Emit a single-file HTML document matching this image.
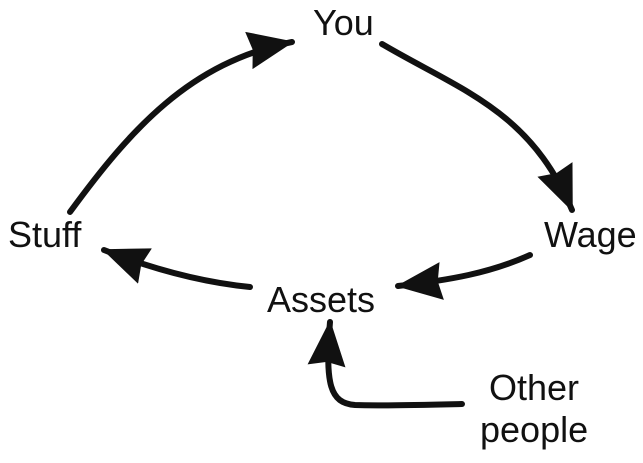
<!DOCTYPE html>
<html><head><style>
html,body{margin:0;padding:0;background:#fff;}
svg{display:block;}
text{font-family:"Liberation Sans",sans-serif;font-size:36px;fill:#111;}
</style></head><body>
<svg width="643" height="463" viewBox="0 0 643 463">
<defs>
<marker id="a" markerUnits="userSpaceOnUse" markerWidth="52" markerHeight="42" refX="44" refY="19" orient="auto">
<path d="M0,0 L46,19 L0,38 L4,19 Z" fill="#111"/>
</marker>
</defs>
<g fill="none" stroke="#111" stroke-width="6" stroke-linecap="round">
<path d="M70,212 C130,130 190,62 292,42" marker-end="url(#a)"/>
<path d="M382,44 C460,90 530,110 572,210" marker-end="url(#a)"/>
<path d="M530,255 C490,273 450,280 398,286" marker-end="url(#a)"/>
<path d="M250,287 C200,282 150,268 104,250" marker-end="url(#a)"/>
<path d="M462,404 C420,405 380,406 355,405 C330,403 325,385 330,322" marker-end="url(#a)"/>
</g>
<text x="313" y="35">You</text>
<text x="8" y="247">Stuff</text>
<text x="544" y="247">Wage</text>
<text x="267" y="312">Assets</text>
<text x="489" y="400">Other</text>
<text x="480" y="442">people</text>
</svg>
</body></html>
